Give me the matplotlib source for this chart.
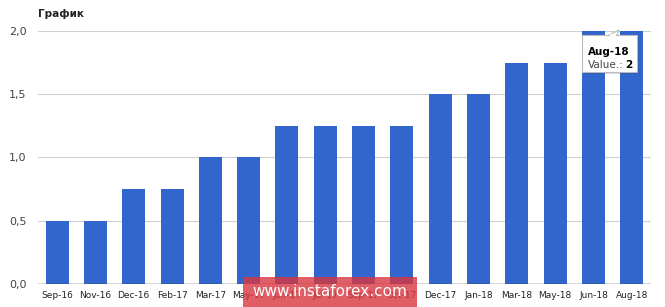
import matplotlib
matplotlib.use("Agg")
import matplotlib.pyplot as plt
from matplotlib.patches import Rectangle, Polygon

months = ["Sep-16", "Nov-16", "Dec-16", "Feb-17", "Mar-17", "May-17", "Jun-17", "Jul-17",
          "Sep-17", "Oct-17", "Dec-17", "Jan-18", "Mar-18", "May-18", "Jun-18", "Aug-18"]
values = [0.5, 0.5, 0.75, 0.75, 1.0, 1.0, 1.25, 1.25, 1.25, 1.25, 1.5, 1.5, 1.75, 1.75, 2.0, 2.0]
yticks = [0.0, 0.5, 1.0, 1.5, 2.0]

W, H = 665, 307
fig = plt.figure(figsize=(6.65, 3.07), dpi=100)
ax = fig.add_axes([0.057, 0.075, 0.922, 0.824])

x = range(len(months))
ax.bar(x, values, width=0.6, color="#3366cc", zorder=2)

ax.set_xlim(-0.5, len(months) - 0.5)
ax.set_ylim(0, 2.0)
ax.set_yticks(yticks)
ax.set_yticklabels([f"{v:.1f}".replace(".", ",") for v in yticks], color="#444444", fontsize=8)
ax.set_xticks(list(x))
ax.set_xticklabels(months, fontsize=6.5, color="#222222")
ax.tick_params(axis="both", length=0)
ax.tick_params(axis="y", pad=8)
ax.tick_params(axis="x", pad=5)
for s in ax.spines.values():
    s.set_visible(False)
for v in yticks[1:]:
    ax.axhline(v, color="#d0d0d0", lw=0.8, zorder=1)
ax.axhline(0, color="#333333", lw=1.0, zorder=3)

fig.text(0.057, 0.945, "График", fontsize=7.5, fontweight="bold", color="#222222")

# tooltip on last bar (pixel coords from top-left)
def P(px, py):
    return (px / W, 1 - py / H)

bx0, by0, bx1, by1 = 582, 35, 637, 72
fig.patches.append(Rectangle(P(bx0 + 2, by1 + 2), (bx1 - bx0) / W, (by1 - by0) / H,
                             transform=fig.transFigure, fc="#000000", alpha=0.12, ec="none", zorder=5))
fig.patches.append(Rectangle(P(bx0, by1), (bx1 - bx0) / W, (by1 - by0) / H,
                             transform=fig.transFigure, fc="white", ec="#bbbbbb", lw=0.8, zorder=6))
fig.patches.append(Polygon([P(609, by0), P(619, 30), P(617, by0)], closed=True,
                           transform=fig.transFigure, fc="white", ec="#bbbbbb", lw=0.8, zorder=6))
fig.patches.append(Polygon([P(609.8, by0 + 0.6), P(616.2, by0 + 0.6), P(616.2, by0 - 0.6), P(609.8, by0 - 0.6)],
                           closed=True, transform=fig.transFigure, fc="white", ec="none", zorder=7))
fig.text(*P(588, 55), "Aug-18", fontsize=7.5, fontweight="bold", color="#000000", zorder=8)
fig.text(*P(588, 68), "Value.:", fontsize=7.5, color="#444444", zorder=8)
fig.text(*P(625, 68), "2", fontsize=7.5, fontweight="bold", color="#000000", zorder=8)

# watermark
fig.patches.append(Rectangle((243 / W, 0), 174 / W, 30 / H, transform=fig.transFigure,
                             fc="#d9363e", alpha=0.8, ec="none", zorder=9))
fig.text(330 / W, 15 / H, "www.instaforex.com", fontsize=11, color="white",
         ha="center", va="center", zorder=10)

fig.savefig("out.png", dpi=100)
